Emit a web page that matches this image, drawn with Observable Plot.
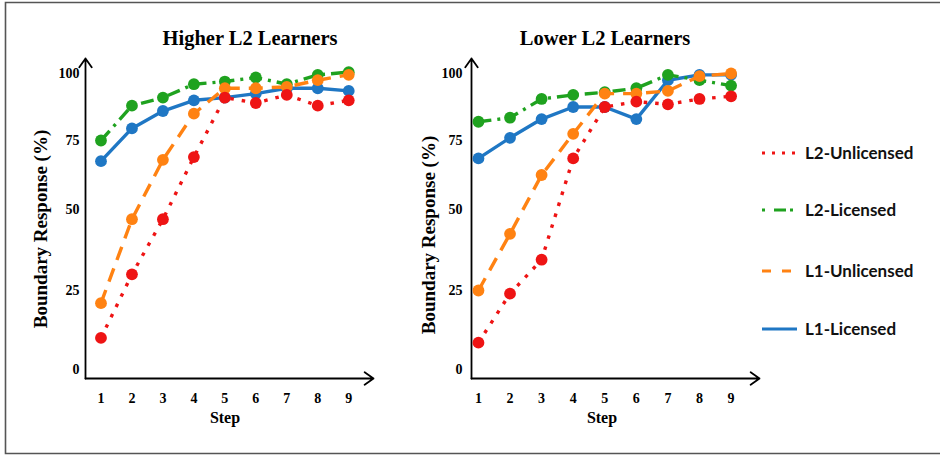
<!DOCTYPE html>
<html>
<head>
<meta charset="utf-8">
<script src="https://cdn.jsdelivr.net/npm/d3@7"></script>
<script src="https://cdn.jsdelivr.net/npm/@observablehq/plot@0.6"></script>
<style>
  html, body { margin: 0; padding: 0; background: #fff; }
  #wrap { position: relative; width: 940px; height: 455px; overflow: hidden; background: #fff; }
  #wrap > svg { position: absolute; top: 0; }
  .panel text { font-size: 14px !important; font-weight: bold; font-family: 'Liberation Serif', serif; }
</style>
</head>
<body>
<div id="wrap"></div>
<script>
// ---- data ----
const steps = [1, 2, 3, 4, 5, 6, 7, 8, 9];
const yTicks = [0, 25, 50, 75, 100];
const seriesNames = ["L2-Unlicensed", "L2-Licensed", "L1-Unlicensed", "L1-Licensed"];
const panelTitles = ["Higher L2 Learners", "Lower L2 Learners"];

const higherL2Unlicensed = [10, 30, 47, 69, 91, 89, 92, 88, 90];
const higherL2Licensed   = [75, 88, 91, 96, 97, 98.5, 96, 99.5, 100.5];
const higherL1Unlicensed = [21, 47, 68, 85, 94.5, 94.5, 95, 97.5, 99.5];
const higherL1Licensed   = [67.5, 79.5, 86, 90, 91, 92.5, 94.5, 94.5, 93.5];

const lowerL2Unlicensed = [8.5, 24, 34.5, 68.5, 87.5, 89.5, 88.5, 90.5, 91.5];
const lowerL2Licensed   = [82, 83.5, 90.5, 92, 93, 94.5, 99.5, 97.5, 95.5];
const lowerL1Unlicensed = [25, 42.5, 62.5, 77.5, 92.5, 92.5, 93.5, 99, 100];
const lowerL1Licensed   = [68.5, 76, 83, 87.5, 87.5, 83, 97.5, 99.5, 99.5];

// ---- styles ----
const styles = {
  "L2-Unlicensed": {color: "#ee1414", dash: "3.5,8", legendDash: "3,7"},
  "L2-Licensed":   {color: "#1fa21f", dash: "13,6,3,6", legendDash: "3,9,12,4"},
  "L1-Unlicensed": {color: "#ff8212", dash: "14,9", legendDash: "9,11"},
  "L1-Licensed":   {color: "#1f77c4", dash: null, legendDash: null}
};
const drawOrder = ["L1-Licensed", "L2-Licensed", "L1-Unlicensed", "L2-Unlicensed"];

const panels = [
  {title: panelTitles[0], left: 0, width: 400, marginLeft: 85, xDomain: [0.5, 9.8], xRange: [85, 373], tickPad: 6,
   values: {"L2-Unlicensed": higherL2Unlicensed, "L2-Licensed": higherL2Licensed, "L1-Unlicensed": higherL1Unlicensed, "L1-Licensed": higherL1Licensed}},
  {title: panelTitles[1], left: 400, width: 400, marginLeft: 71, xDomain: [0.78, 9.9], xRange: [71, 359], tickPad: 9,
   values: {"L2-Unlicensed": lowerL2Unlicensed, "L2-Licensed": lowerL2Licensed, "L1-Unlicensed": lowerL1Unlicensed, "L1-Licensed": lowerL1Licensed}}
];

// piecewise y scale matching the reference's tick spacing
const yDomain = [-3, 0, 25, 50, 75, 100, 105.5];
const yRange  = [378, 369, 290, 209, 140, 73, 58];

const wrap = document.getElementById("wrap");

for (const p of panels) {
  const marks = [];
  const axes = [
    {x1: p.xDomain[0], y1: yDomain[0], x2: p.xDomain[0], y2: yDomain[yDomain.length - 1]},
    {x1: p.xDomain[0], y1: yDomain[0], x2: p.xDomain[1], y2: yDomain[0]}
  ];
  marks.push(Plot.arrow(axes, {x1: "x1", y1: "y1", x2: "x2", y2: "y2", stroke: "#000", strokeWidth: 1.8, headLength: 9, headAngle: 70}));
  for (const name of drawOrder) {
    const st = styles[name];
    const rows = steps.map((s, i) => ({step: s, value: p.values[name][i], series: name}));
    marks.push(Plot.line(rows, {x: "step", y: "value", stroke: st.color, strokeWidth: 3.4,
      strokeDasharray: st.dash || undefined, strokeLinecap: "butt"}));
    marks.push(Plot.dot(rows, {x: "step", y: "value", fill: st.color, r: 5.9}));
  }
  const svg = Plot.plot({
    width: p.width,
    height: 440,
    marginLeft: p.marginLeft,
    marginRight: p.width - p.xRange[1],
    marginTop: 58,
    marginBottom: 62,
    style: "background:transparent;overflow:visible;font-family:'Liberation Serif',serif;font-weight:bold;font-size:14px;color:#000;",
    x: {type: "linear", domain: p.xDomain, range: p.xRange, ticks: steps, tickSize: 0, tickPadding: 15, tickFormat: d3.format("d"), label: null},
    y: {type: "linear", domain: yDomain, range: yRange, ticks: yTicks, tickSize: 0, tickPadding: p.tickPad, tickFormat: d3.format("d"), label: null},
    marks
  });
  svg.classList.add("panel");
  svg.style.left = p.left + "px";
  wrap.appendChild(svg);
}

// ---- overlay: frame, titles, axis titles, legend ----
const ns = "http://www.w3.org/2000/svg";
const ov = document.createElementNS(ns, "svg");
ov.setAttribute("width", 940);
ov.setAttribute("height", 455);
ov.style.left = "0px";
ov.style.pointerEvents = "none";
wrap.appendChild(ov);
function el(tag, attrs, text) {
  const e = document.createElementNS(ns, tag);
  for (const k in attrs) e.setAttribute(k, attrs[k]);
  if (text != null) e.textContent = text;
  ov.appendChild(e);
  return e;
}
el("path", {d: "M 960 2.5 H 5.5 V 453.5 H 960", fill: "none", stroke: "#555", "stroke-width": 1.6});

const serif = "'Liberation Serif', 'Times New Roman', serif";
el("text", {x: 250, y: 45, "text-anchor": "middle", "font-family": serif, "font-weight": "bold", "font-size": 20.5}, panelTitles[0]);
el("text", {x: 605, y: 45, "text-anchor": "middle", "font-family": serif, "font-weight": "bold", "font-size": 20.5}, panelTitles[1]);
el("text", {x: 225, y: 423, "text-anchor": "middle", "font-family": serif, "font-weight": "bold", "font-size": 16}, "Step");
el("text", {x: 602, y: 423, "text-anchor": "middle", "font-family": serif, "font-weight": "bold", "font-size": 16}, "Step");
el("text", {transform: "translate(47,229) rotate(-90)", "text-anchor": "middle", "font-family": serif, "font-weight": "bold", "font-size": 19}, "Boundary Response (%)");
el("text", {transform: "translate(435,235) rotate(-90)", "text-anchor": "middle", "font-family": serif, "font-weight": "bold", "font-size": 19}, "Boundary Response (%)");

const legendY = [153, 210, 271, 329];
seriesNames.forEach((name, i) => {
  const st = styles[name];
  const line = el("line", {x1: 762, x2: 797, y1: legendY[i], y2: legendY[i], stroke: st.color, "stroke-width": 3});
  if (st.legendDash) line.setAttribute("stroke-dasharray", st.legendDash);
  el("text", {x: 805, y: legendY[i] + 6, "font-family": "Lato, 'Open Sans', sans-serif", "font-weight": "bold", "font-size": 17, fill: "#111"}, name);
});
</script>
</body>
</html>
